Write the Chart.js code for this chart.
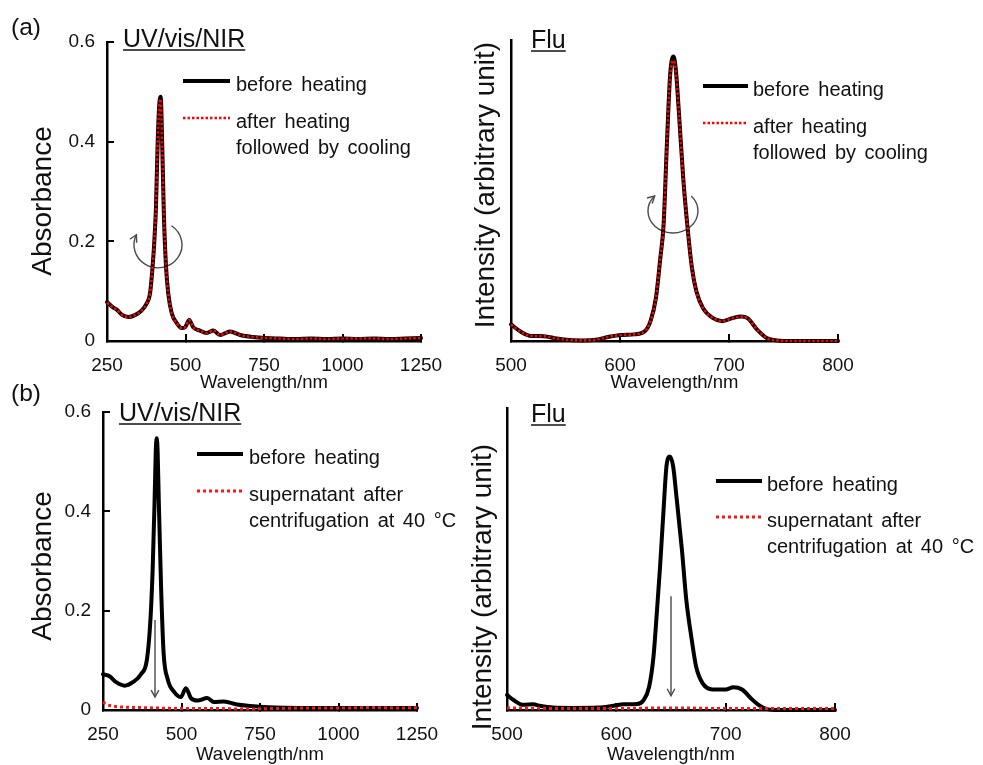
<!DOCTYPE html>
<html>
<head>
<meta charset="utf-8">
<script src="https://cdn.jsdelivr.net/npm/chart.js@4.4.1/dist/chart.umd.min.js"></script>
<style>
  body { margin: 0; background: #fff; }
  #wrap { position: relative; width: 983px; height: 765px; overflow: hidden; }
  #wrap canvas { position: absolute; left: 0; top: 0; }
</style>
</head>
<body>
<div id="wrap">
  <canvas id="uvA" width="983" height="765"></canvas>
  <canvas id="fluA" width="983" height="765"></canvas>
  <canvas id="uvB" width="983" height="765"></canvas>
  <canvas id="fluB" width="983" height="765"></canvas>
</div>
<script>
// tick values
const uvTicksX = [250, 500, 750, 1000, 1250];
const uvTicksY = [0, 0.2, 0.4, 0.6];
const fluTicksX = [500, 600, 700, 800];

// legend texts
const legendA = ['before heating', ['after heating', 'followed by cooling']];
const legendB = ['before heating', ['supernatant after', 'centrifugation at 40 °C']];

// (a) UV/vis/NIR
const uvWlA = [250, 270, 281, 297, 318, 339, 360, 376, 387, 395, 401, 406, 411, 416, 421, 426, 431, 438, 445, 456, 472, 488, 498, 512, 525, 546, 567, 589, 610, 642, 674, 715, 758, 800, 850, 900, 950, 1000, 1050, 1100, 1150, 1200, 1250];
const uvBeforeA = [0.078, 0.067, 0.063, 0.053, 0.048, 0.052, 0.061, 0.075, 0.095, 0.148, 0.203, 0.270, 0.390, 0.470, 0.490, 0.390, 0.257, 0.149, 0.096, 0.056, 0.036, 0.026, 0.027, 0.042, 0.027, 0.021, 0.016, 0.021, 0.012, 0.019, 0.012, 0.008, 0.006, 0.005, 0.004, 0.005, 0.004, 0.005, 0.004, 0.005, 0.004, 0.005, 0.006];
const uvAfterA = [0.077, 0.067, 0.063, 0.053, 0.048, 0.052, 0.061, 0.075, 0.095, 0.148, 0.203, 0.270, 0.388, 0.468, 0.485, 0.388, 0.257, 0.149, 0.096, 0.056, 0.036, 0.026, 0.027, 0.042, 0.027, 0.021, 0.016, 0.021, 0.012, 0.019, 0.012, 0.008, 0.006, 0.005, 0.004, 0.005, 0.004, 0.005, 0.005, 0.005, 0.004, 0.005, 0.006];

// (a) Flu
const fluWlA = [500, 509, 518, 530, 542, 554, 566, 578, 590, 601, 613, 622, 628, 633, 637, 640, 643, 646, 649, 651, 654, 658, 662, 666, 670, 676, 685, 694, 703, 711, 717, 726, 735, 744, 760, 780, 800];
const fluBeforeA = [0.055, 0.031, 0.017, 0.016, 0.008, 0.003, 0.002, 0.004, 0.014, 0.020, 0.022, 0.030, 0.066, 0.144, 0.276, 0.387, 0.652, 0.884, 0.945, 0.910, 0.762, 0.541, 0.376, 0.243, 0.166, 0.110, 0.077, 0.066, 0.076, 0.081, 0.076, 0.037, 0.009, 0.002, 0, 0, 0];
const fluAfterA = [0.055, 0.031, 0.017, 0.016, 0.008, 0.003, 0.002, 0.004, 0.014, 0.020, 0.022, 0.030, 0.066, 0.144, 0.276, 0.387, 0.650, 0.878, 0.932, 0.905, 0.762, 0.541, 0.376, 0.243, 0.166, 0.110, 0.077, 0.066, 0.076, 0.081, 0.076, 0.037, 0.009, 0.002, 0, 0, 0];

// (b) UV/vis/NIR
const uvWlB = [250, 271, 292, 319, 345, 371, 390, 401, 408, 414, 418, 421, 424, 428, 435, 443, 456, 477, 498, 514, 530, 551, 582, 603, 635, 677, 719, 760, 800, 900, 1000, 1100, 1200, 1250];
const uvBeforeB = [0.072, 0.068, 0.056, 0.049, 0.056, 0.072, 0.102, 0.181, 0.280, 0.413, 0.520, 0.547, 0.520, 0.413, 0.247, 0.115, 0.062, 0.036, 0.026, 0.044, 0.024, 0.019, 0.024, 0.016, 0.017, 0.011, 0.008, 0.006, 0.005, 0.004, 0.004, 0.004, 0.004, 0.004];
const uvWlSupB = [250, 262, 280, 310, 360, 420, 500, 600, 700, 800, 900, 1000, 1100, 1200, 1250];
const uvSuperB = [0.016, 0.011, 0.008, 0.006, 0.005, 0.004, 0.003, 0.003, 0.002, 0.003, 0.004, 0.004, 0.005, 0.004, 0.005];

// (b) Flu
const fluWlB = [500, 506, 515, 524, 530, 542, 560, 584, 596, 607, 619, 625, 630, 634, 637, 640, 643, 646, 649, 652, 655, 660, 664, 669, 673, 679, 688, 700, 707, 715, 723, 730, 738, 750, 775, 800];
const fluBeforeB = [0.050, 0.033, 0.017, 0.019, 0.014, 0.008, 0.007, 0.008, 0.013, 0.019, 0.020, 0.033, 0.077, 0.177, 0.320, 0.475, 0.651, 0.811, 0.839, 0.806, 0.706, 0.530, 0.364, 0.232, 0.143, 0.088, 0.068, 0.068, 0.075, 0.068, 0.039, 0.017, 0.003, 0, 0, 0];
const fluWlSupB = [500, 550, 600, 650, 700, 750, 800];
const fluSuperB = [0.007, 0.005, 0.005, 0.007, 0.005, 0.005, 0.005];

const FONT = '"Liberation Sans", Arial, sans-serif';
Chart.defaults.font.family = FONT;
Chart.defaults.color = '#111';

function pts(wl, vals) {
  return wl.map((x, i) => ({ x: x, y: vals[i] }));
}

function lineSet(label, data, kind) {
  const ds = { label: label, data: data, pointRadius: 0, cubicInterpolationMode: 'monotone', clip: 6 };
  if (kind === 'solid') {
    return Object.assign(ds, { borderColor: '#000', borderWidth: 4, borderJoinStyle: 'round', borderCapStyle: 'round', order: 1 });
  }
  if (kind === 'overlay') {
    return Object.assign(ds, { borderColor: '#ff0000', borderWidth: 2.6, borderDash: [2.5, 2], order: 0 });
  }
  return Object.assign(ds, { borderColor: '#ff1414', borderWidth: 3, borderDash: [3, 3], order: 0 });
}

function head(ctx, x, y, ang) {
  const len = 8, spread = 0.5;
  ctx.beginPath();
  ctx.moveTo(x - len * Math.cos(ang - spread), y - len * Math.sin(ang - spread));
  ctx.lineTo(x, y);
  ctx.lineTo(x - len * Math.cos(ang + spread), y - len * Math.sin(ang + spread));
  ctx.stroke();
}

function decoPlugin(p) {
  return {
    id: 'deco',
    beforeDatasetsDraw(chart) {
      const ctx = chart.ctx, xs = chart.scales.x, ys = chart.scales.y;
      ctx.save();
      ctx.strokeStyle = '#4a4a4a';
      ctx.lineWidth = 1.4;
      p.arrows.forEach(ar => {
        if (ar.type === 'turn') {
          const cx = xs.getPixelForValue(ar.x), cy = ys.getPixelForValue(ar.y);
          const a0 = ar.from * Math.PI / 180, a1 = ar.to * Math.PI / 180;
          ctx.beginPath();
          ctx.ellipse(cx, cy, ar.rx, ar.ry, 0, a0, a1);
          ctx.stroke();
          const ex = cx + ar.rx * Math.cos(a1), ey = cy + ar.ry * Math.sin(a1);
          head(ctx, ex, ey, Math.atan2(ar.ry * Math.cos(a1), -ar.rx * Math.sin(a1)));
        } else {
          const x = xs.getPixelForValue(ar.x);
          const y1 = ys.getPixelForValue(ar.y1), y2 = ys.getPixelForValue(ar.y2);
          ctx.beginPath();
          ctx.moveTo(x, y1);
          ctx.lineTo(x, y2);
          ctx.stroke();
          head(ctx, x, y2, Math.PI / 2);
        }
      });
      ctx.restore();
    },
    afterDraw(chart) {
      const ctx = chart.ctx;
      ctx.save();
      ctx.fillStyle = '#111';
      ctx.strokeStyle = '#111';
      ctx.textAlign = 'left';
      ctx.textBaseline = 'alphabetic';
      if (p.letter) {
        ctx.font = '24.5px ' + FONT;
        ctx.fillText(p.letter.text, p.letter.x, p.letter.y);
      }
      // underlined panel title
      ctx.font = '25px ' + FONT;
      ctx.fillText(p.title.text, p.title.x, p.title.y);
      const w = ctx.measureText(p.title.text).width;
      ctx.lineWidth = 1.5;
      ctx.beginPath();
      ctx.moveTo(p.title.x, p.title.y + 3);
      ctx.lineTo(p.title.x + w, p.title.y + 3);
      ctx.stroke();
      // y axis title
      ctx.save();
      ctx.translate(p.yTitle.x, p.yTitle.y);
      ctx.rotate(-Math.PI / 2);
      ctx.font = '28px ' + FONT;
      ctx.textAlign = 'center';
      ctx.textBaseline = 'middle';
      ctx.fillText(p.yTitle.text, 0, 0);
      ctx.restore();
      // legend
      ctx.font = '20px ' + FONT;
      if ('wordSpacing' in ctx) ctx.wordSpacing = '3px';
      const lg = p.legend;
      lg.labels.forEach((lab, i) => {
        const ds = chart.data.datasets[i], ly = lg.y[i];
        ctx.save();
        ctx.strokeStyle = ds.borderColor;
        ctx.lineWidth = ds.borderWidth;
        ctx.setLineDash(ds.borderDash || []);
        ctx.beginPath();
        ctx.moveTo(lg.x0, ly);
        ctx.lineTo(lg.x1, ly);
        ctx.stroke();
        ctx.restore();
        [].concat(lab).forEach((t, k) => ctx.fillText(t, lg.tx, ly + 10 + k * 26));
      });
      ctx.restore();
    }
  };
}

function makeChart(id, p) {
  const a = p.area;
  const yHasTicks = p.yTicks.length > 0;
  new Chart(document.getElementById(id), {
    type: 'line',
    data: { datasets: p.datasets },
    options: {
      responsive: false,
      animation: false,
      events: [],
      layout: { padding: { left: a.l - 60, right: 983 - a.r, top: a.t, bottom: 765 - a.b - p.xTitleH } },
      plugins: { legend: { display: false }, tooltip: { enabled: false } },
      scales: {
        x: {
          type: 'linear',
          min: p.xTicks[0],
          max: p.xTicks[p.xTicks.length - 1],
          afterFit: s => { s.height = p.xTitleH; },
          afterBuildTicks: s => { s.ticks = p.xTicks.map(v => ({ value: v })); },
          ticks: { autoSkip: false, maxRotation: 0, padding: 20, font: { size: 19 }, color: '#111', callback: v => String(v) },
          grid: { drawOnChartArea: false, color: '#000', lineWidth: 2, tickLength: -7 },
          border: { color: '#000', width: 2.5 },
          title: { display: true, text: 'Wavelength/nm', font: { size: 18.5, lineHeight: 1 }, padding: 0, color: '#111' }
        },
        y: {
          type: 'linear',
          min: 0,
          max: p.yMax,
          afterFit: s => { s.width = 60; },
          afterBuildTicks: s => { if (yHasTicks) s.ticks = p.yTicks.map(v => ({ value: v })); },
          ticks: { display: yHasTicks, autoSkip: false, padding: 19, font: { size: 19 }, color: '#111', callback: v => String(v) },
          grid: { drawOnChartArea: false, drawTicks: yHasTicks, color: '#000', lineWidth: 2, tickLength: -7 },
          border: { color: '#000', width: 2.5 }
        }
      }
    },
    plugins: [decoPlugin(p)]
  });
}

makeChart('uvA', {
  area: { l: 107, r: 421, t: 42, b: 341 }, xTitleH: 51.25,
  xTicks: uvTicksX, yTicks: uvTicksY, yMax: 0.6,
  datasets: [lineSet(legendA[0], pts(uvWlA, uvBeforeA), 'solid'), lineSet(legendA[1][0], pts(uvWlA, uvAfterA), 'overlay')],
  letter: { text: '(a)', x: 11, y: 35 },
  title: { text: 'UV/vis/NIR', x: 123, y: 47 },
  yTitle: { text: 'Absorbance', x: 43.5, y: 201 },
  legend: { labels: legendA, x0: 183, x1: 230, tx: 236, y: [81, 118] },
  arrows: [{ type: 'turn', x: 412.4, y: 0.193, rx: 24, ry: 23, from: -56, to: 206 }]
});

makeChart('fluA', {
  area: { l: 511, r: 838, t: 40, b: 341 }, xTitleH: 51.25,
  xTicks: fluTicksX, yTicks: [], yMax: 1,
  datasets: [lineSet(legendA[0], pts(fluWlA, fluBeforeA), 'solid'), lineSet(legendA[1][0], pts(fluWlA, fluAfterA), 'overlay')],
  title: { text: 'Flu', x: 531, y: 48 },
  yTitle: { text: 'Intensity (arbitrary unit)', x: 486.5, y: 185 },
  legend: { labels: legendA, x0: 703, x1: 748, tx: 753, y: [86, 123] },
  arrows: [{ type: 'turn', x: 648.6, y: 0.432, rx: 25, ry: 22, from: -43, to: 223 }]
});

makeChart('uvB', {
  area: { l: 103, r: 417, t: 412, b: 710 }, xTitleH: 54.25,
  xTicks: uvTicksX, yTicks: uvTicksY, yMax: 0.6,
  datasets: [lineSet(legendB[0], pts(uvWlB, uvBeforeB), 'solid'), lineSet(legendB[1][0], pts(uvWlSupB, uvSuperB), 'dotted')],
  letter: { text: '(b)', x: 11, y: 401 },
  title: { text: 'UV/vis/NIR', x: 119, y: 421 },
  yTitle: { text: 'Absorbance', x: 43, y: 566 },
  legend: { labels: legendB, x0: 197, x1: 243, tx: 249, y: [454, 491] },
  arrows: [{ type: 'down', x: 415.6, y1: 0.181, y2: 0.026 }]
});

makeChart('fluB', {
  area: { l: 507, r: 835, t: 408, b: 710 }, xTitleH: 54.25,
  xTicks: fluTicksX, yTicks: [], yMax: 1,
  datasets: [lineSet(legendB[0], pts(fluWlB, fluBeforeB), 'solid'), lineSet(legendB[1][0], pts(fluWlSupB, fluSuperB), 'dotted')],
  title: { text: 'Flu', x: 531, y: 422 },
  yTitle: { text: 'Intensity (arbitrary unit)', x: 483, y: 587 },
  legend: { labels: legendB, x0: 716, x1: 762, tx: 767, y: [481, 517] },
  arrows: [{ type: 'down', x: 650, y1: 0.377, y2: 0.047 }]
});
</script>
</body>
</html>
